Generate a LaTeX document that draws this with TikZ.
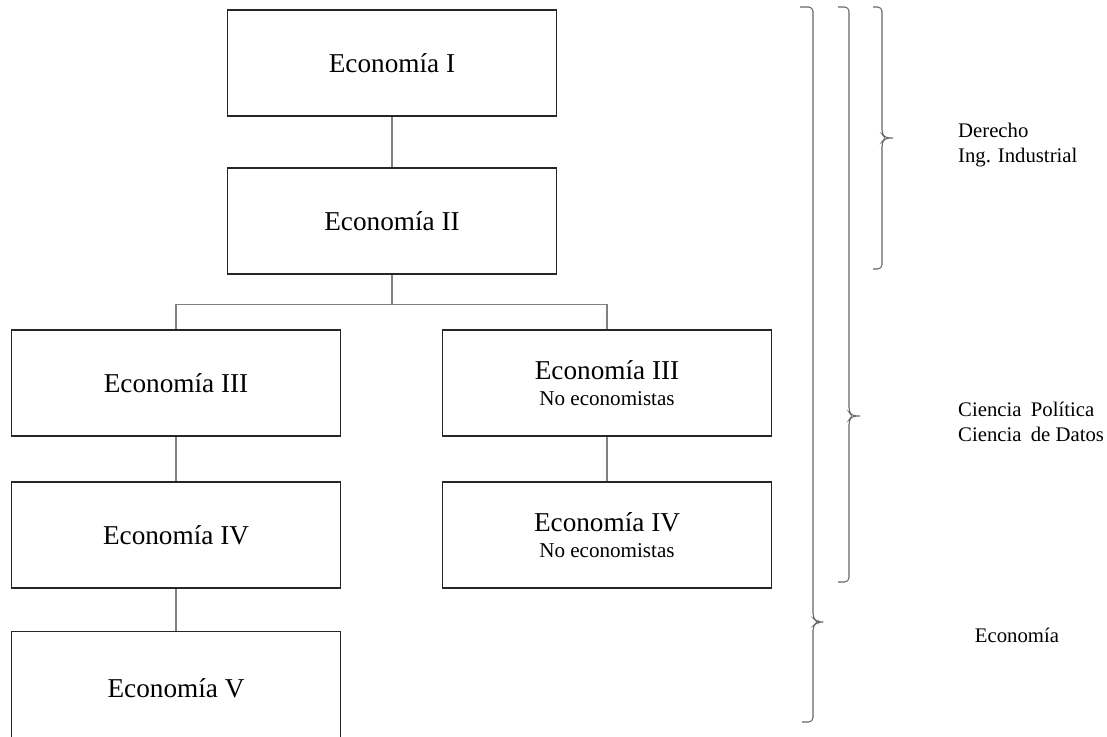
\documentclass[tikz,border=0pt]{standalone}
\usepackage{fontspec}
\setmainfont{Liberation Serif}
\tikzset{
	curso/.style={draw=black!85, line width=0.7pt, minimum width=6.58cm, minimum height=2.12cm, inner sep=0pt, align=center, font=\fontsize{15.5}{18}\selectfont},
	enlace/.style={draw=black!50, line width=0.6pt},
	llave/.style={draw=black!60, line width=0.6pt, rounded corners=2.5pt},
	carrera/.style={align=left, font=\fontsize{11.8}{14.6}\selectfont}
}
\newcommand{\noeco}{\\[-3pt]{\fontsize{12}{14}\selectfont No economistas}}

\begin{document}
\begin{tikzpicture}[x=0.02cm, y=-0.02cm]
		\useasboundingbox (0,0) rectangle (1107,737);
		\node[curso] (e1) at (392,63) {Economía I};
		\node[curso] (e2) at (392,221) {Economía II};
		\node[curso] (e3a) at (176,383) {Economía III};
		\node[curso] (e3b) at (607,383) {Economía III\noeco};
		\node[curso] (e4a) at (176,535) {Economía IV};
		\node[curso] (e4b) at (607,535) {Economía IV\noeco};
		\node[curso, minimum height=2.26cm] (e5) at (176,688) {Economía V};
		
		\draw[enlace] (e1) -- (e2);
		\foreach \x in {e3a,e3b} {
			\draw[enlace] (e2.south) -- ++(0,30) -| (\x.north);
		}
		\draw[enlace] (e3a) -- (e4a);
		\draw[enlace] (e3b) -- (e4b);
		\draw[enlace] (e4a) -- (e5);
		
		\draw[llave] (800,7) -| (813,618) -- (817,622) -- (826,622) -- (817,622) -- (813,626) |- (802,722);
		\draw[llave] (838,7) -| (849,412) -- (852,416) -- (859,416) -- (852,416) -- (849,420) |- (838,582);
		\draw[llave] (873,7) -| (882,134) -- (885,138) -- (891,138) -- (885,138) -- (882,142) |- (873,269);
		
		\node[carrera, anchor=west] (t1) at (952,145) {Derecho\\Ing. Industrial};
		\node[carrera, anchor=west] (t2) at (952,422) {Ciencia\hspace{0.45em}Política\\Ciencia\hspace{0.45em}de Datos};
		\node[carrera] (t3) at (1017,635) {Economía};
	\end{tikzpicture}
\end{document}
